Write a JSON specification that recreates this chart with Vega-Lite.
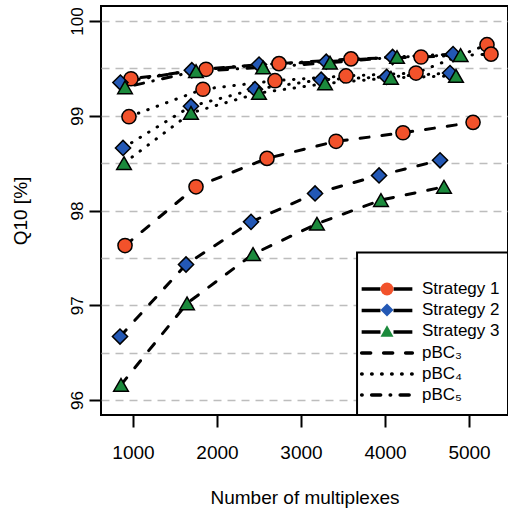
{
  "$schema": "https://vega.github.io/schema/vega-lite/v6.json",
  "width": 407,
  "height": 409,
  "autosize": {"type": "none"},
  "padding": {"left": 101, "top": 6, "right": 0, "bottom": 97},
  "background": "white",
  "config": {
    "view": {"stroke": "black", "strokeWidth": 2},
    "font": "Liberation Sans",
    "axis": {"labelFont": "Liberation Sans", "titleFont": "Liberation Sans", "labelColor": "black", "titleColor": "black", "titleFontWeight": "normal"},
    "legend": {"labelFont": "Liberation Sans", "labelColor": "black"}
  },
  "data": {"name": "pts"},
  "datasets": {
    "pts": [
      {"x": 905, "q10": 97.63, "strategy": "Strategy 1", "pbc": "pBC₃"},
      {"x": 1750, "q10": 98.25, "strategy": "Strategy 1", "pbc": "pBC₃"},
      {"x": 2595, "q10": 98.55, "strategy": "Strategy 1", "pbc": "pBC₃"},
      {"x": 3417, "q10": 98.73, "strategy": "Strategy 1", "pbc": "pBC₃"},
      {"x": 4214, "q10": 98.82, "strategy": "Strategy 1", "pbc": "pBC₃"},
      {"x": 5048, "q10": 98.93, "strategy": "Strategy 1", "pbc": "pBC₃"},
      {"x": 952, "q10": 98.99, "strategy": "Strategy 1", "pbc": "pBC₄"},
      {"x": 1833, "q10": 99.28, "strategy": "Strategy 1", "pbc": "pBC₄"},
      {"x": 2690, "q10": 99.37, "strategy": "Strategy 1", "pbc": "pBC₄"},
      {"x": 3536, "q10": 99.42, "strategy": "Strategy 1", "pbc": "pBC₄"},
      {"x": 4369, "q10": 99.45, "strategy": "Strategy 1", "pbc": "pBC₄"},
      {"x": 5214, "q10": 99.75, "strategy": "Strategy 1", "pbc": "pBC₄"},
      {"x": 976, "q10": 99.39, "strategy": "Strategy 1", "pbc": "pBC₅"},
      {"x": 1869, "q10": 99.49, "strategy": "Strategy 1", "pbc": "pBC₅"},
      {"x": 2738, "q10": 99.55, "strategy": "Strategy 1", "pbc": "pBC₅"},
      {"x": 3595, "q10": 99.6, "strategy": "Strategy 1", "pbc": "pBC₅"},
      {"x": 4429, "q10": 99.62, "strategy": "Strategy 1", "pbc": "pBC₅"},
      {"x": 5262, "q10": 99.65, "strategy": "Strategy 1", "pbc": "pBC₅"},
      {"x": 845, "q10": 96.67, "strategy": "Strategy 2", "pbc": "pBC₃"},
      {"x": 1631, "q10": 97.43, "strategy": "Strategy 2", "pbc": "pBC₃"},
      {"x": 2405, "q10": 97.88, "strategy": "Strategy 2", "pbc": "pBC₃"},
      {"x": 3167, "q10": 98.18, "strategy": "Strategy 2", "pbc": "pBC₃"},
      {"x": 3929, "q10": 98.37, "strategy": "Strategy 2", "pbc": "pBC₃"},
      {"x": 4655, "q10": 98.53, "strategy": "Strategy 2", "pbc": "pBC₃"},
      {"x": 881, "q10": 98.66, "strategy": "Strategy 2", "pbc": "pBC₄"},
      {"x": 1690, "q10": 99.1, "strategy": "Strategy 2", "pbc": "pBC₄"},
      {"x": 2452, "q10": 99.28, "strategy": "Strategy 2", "pbc": "pBC₄"},
      {"x": 3240, "q10": 99.38, "strategy": "Strategy 2", "pbc": "pBC₄"},
      {"x": 4020, "q10": 99.41, "strategy": "Strategy 2", "pbc": "pBC₄"},
      {"x": 4774, "q10": 99.45, "strategy": "Strategy 2", "pbc": "pBC₄"},
      {"x": 850, "q10": 99.35, "strategy": "Strategy 2", "pbc": "pBC₅"},
      {"x": 1700, "q10": 99.48, "strategy": "Strategy 2", "pbc": "pBC₅"},
      {"x": 2500, "q10": 99.54, "strategy": "Strategy 2", "pbc": "pBC₅"},
      {"x": 3300, "q10": 99.57, "strategy": "Strategy 2", "pbc": "pBC₅"},
      {"x": 4090, "q10": 99.62, "strategy": "Strategy 2", "pbc": "pBC₅"},
      {"x": 4810, "q10": 99.65, "strategy": "Strategy 2", "pbc": "pBC₅"},
      {"x": 857, "q10": 96.16, "strategy": "Strategy 3", "pbc": "pBC₃"},
      {"x": 1643, "q10": 97.02, "strategy": "Strategy 3", "pbc": "pBC₃"},
      {"x": 2429, "q10": 97.54, "strategy": "Strategy 3", "pbc": "pBC₃"},
      {"x": 3190, "q10": 97.86, "strategy": "Strategy 3", "pbc": "pBC₃"},
      {"x": 3952, "q10": 98.11, "strategy": "Strategy 3", "pbc": "pBC₃"},
      {"x": 4702, "q10": 98.25, "strategy": "Strategy 3", "pbc": "pBC₃"},
      {"x": 893, "q10": 98.5, "strategy": "Strategy 3", "pbc": "pBC₄"},
      {"x": 1690, "q10": 99.03, "strategy": "Strategy 3", "pbc": "pBC₄"},
      {"x": 2500, "q10": 99.24, "strategy": "Strategy 3", "pbc": "pBC₄"},
      {"x": 3286, "q10": 99.34, "strategy": "Strategy 3", "pbc": "pBC₄"},
      {"x": 4071, "q10": 99.4, "strategy": "Strategy 3", "pbc": "pBC₄"},
      {"x": 4845, "q10": 99.42, "strategy": "Strategy 3", "pbc": "pBC₄"},
      {"x": 905, "q10": 99.3, "strategy": "Strategy 3", "pbc": "pBC₅"},
      {"x": 1750, "q10": 99.47, "strategy": "Strategy 3", "pbc": "pBC₅"},
      {"x": 2548, "q10": 99.51, "strategy": "Strategy 3", "pbc": "pBC₅"},
      {"x": 3345, "q10": 99.56, "strategy": "Strategy 3", "pbc": "pBC₅"},
      {"x": 4143, "q10": 99.62, "strategy": "Strategy 3", "pbc": "pBC₅"},
      {"x": 4900, "q10": 99.64, "strategy": "Strategy 3", "pbc": "pBC₅"}
    ]
  },
  "layer": [
    {
      "data": {"values": [{}]},
      "mark": {"type": "rect", "fill": "white", "stroke": "black", "strokeWidth": 2},
      "encoding": {
        "x": {"datum": 3667, "type": "quantitative", "scale": {"domain": [619, 5464], "nice": false, "zero": false},
          "axis": {"title": "Number of multiplexes", "format": "d", "values": [1000, 2000, 3000, 4000, 5000], "grid": false, "domain": false, "tickSize": 12, "tickWidth": 2, "tickColor": "black", "labelFontSize": 19, "labelPadding": 31.6, "labelBaseline": "alphabetic", "labelFlush": false, "labelOverlap": false, "titleFontSize": 19, "titleY": 88.6, "titleBaseline": "alphabetic"}},
        "x2": {"datum": 5464},
        "y": {"datum": 97.558, "type": "quantitative", "scale": {"domain": [95.842, 100.158], "nice": false, "zero": false},
          "axis": {"title": "Q10 [%]", "format": ".0f", "values": [96, 96.5, 97, 97.5, 98, 98.5, 99, 99.5, 100], "grid": true, "gridColor": "#bdbdbd", "gridDash": [8, 6], "gridWidth": 1.5, "domain": false, "tickSize": 12, "tickWidth": 2, "tickColor": "black", "tickOpacity": {"condition": {"test": "datum.value % 1 !== 0", "value": 0}, "value": 1}, "labelExpr": "datum.value % 1 === 0 ? datum.label : ''", "labelAngle": 270, "labelAlign": "center", "labelBaseline": "alphabetic", "labelPadding": 7, "labelFontSize": 17, "labelOverlap": false, "labelFlush": false, "titleFontSize": 19, "titleAngle": 270, "titleX": -81, "titleY": 204.5, "titleAlign": "center", "titleBaseline": "middle"}},
        "y2": {"datum": 95.842}
      }
    },
    {
      "mark": {"type": "line", "color": "black", "strokeWidth": 3, "strokeCap": "round"},
      "encoding": {
        "x": {"field": "x", "type": "quantitative"},
        "y": {"field": "q10", "type": "quantitative"},
        "detail": {"field": "strategy"},
        "order": {"field": "x"},
        "opacity": {"field": "strategy", "type": "nominal",
          "scale": {"domain": ["Strategy 3", "Strategy 1", "Strategy 2"], "range": [1, 1, 1]},
          "legend": {"title": null, "orient": "none", "legendX": 277.5, "legendY": 274.5, "padding": 0, "symbolType": "M-3.9,0H-1M1,0H3.9", "symbolSize": 169, "symbolStrokeWidth": 3.5, "symbolStrokeColor": "black", "labelFontSize": 17, "labelOffset": 26.5, "labelOpacity": 0, "rowPadding": 3.5, "labelLimit": 200}},
        "strokeDash": {"field": "pbc", "type": "nominal",
          "scale": {"domain": ["pBC₃", "pBC₄", "pBC₅"], "range": [[9, 13], [0.5, 9.5], [0.5, 9.5, 9, 9.5]]},
          "legend": {"title": null, "orient": "none", "legendX": 277.5, "legendY": 338.5, "padding": 0, "symbolType": "M-3.9,0H3.9", "symbolSize": 169, "symbolStrokeWidth": 3.5, "symbolStrokeColor": "black", "labelFontSize": 17, "labelOffset": 26.5, "rowPadding": 3, "labelLimit": 200,
            "encode": {"symbols": {"update": {"strokeCap": {"value": "round"}}, "strokeCap": {"value": "round"}}}}}
      }
    },
    {
      "mark": {"type": "point", "filled": true, "stroke": "black", "strokeWidth": 1.5, "opacity": 1},
      "encoding": {
        "x": {"field": "x", "type": "quantitative"},
        "y": {"field": "q10", "type": "quantitative"},
        "size": {"field": "strategy", "type": "nominal", "legend": null,
          "scale": {"domain": ["Strategy 2", "Strategy 3", "Strategy 1"], "range": [230, 200, 160]}},
        "shape": {"field": "strategy", "type": "nominal",
          "scale": {"domain": ["Strategy 1", "Strategy 2", "Strategy 3"], "range": ["circle", "diamond", "triangle-up"]},
          "legend": {"title": null, "orient": "none", "legendX": 277.5, "legendY": 274.5, "padding": 0, "symbolSize": 169, "symbolStrokeWidth": 2, "symbolStrokeColor": "black", "labelFontSize": 17, "labelOffset": 26.5, "rowPadding": 0, "labelLimit": 200}},
        "fill": {"field": "strategy", "type": "nominal",
          "scale": {"domain": ["Strategy 1", "Strategy 2", "Strategy 3"], "range": ["#f2522b", "#2358b5", "#1b8a3c"]},
          "legend": {"title": null, "orient": "none", "legendX": 277.5, "legendY": 274.5, "padding": 0, "symbolSize": 169, "symbolStrokeWidth": 2, "symbolStrokeColor": "black", "labelFontSize": 17, "labelOffset": 26.5, "rowPadding": 0, "labelLimit": 200}}
      }
    }
  ]
}
